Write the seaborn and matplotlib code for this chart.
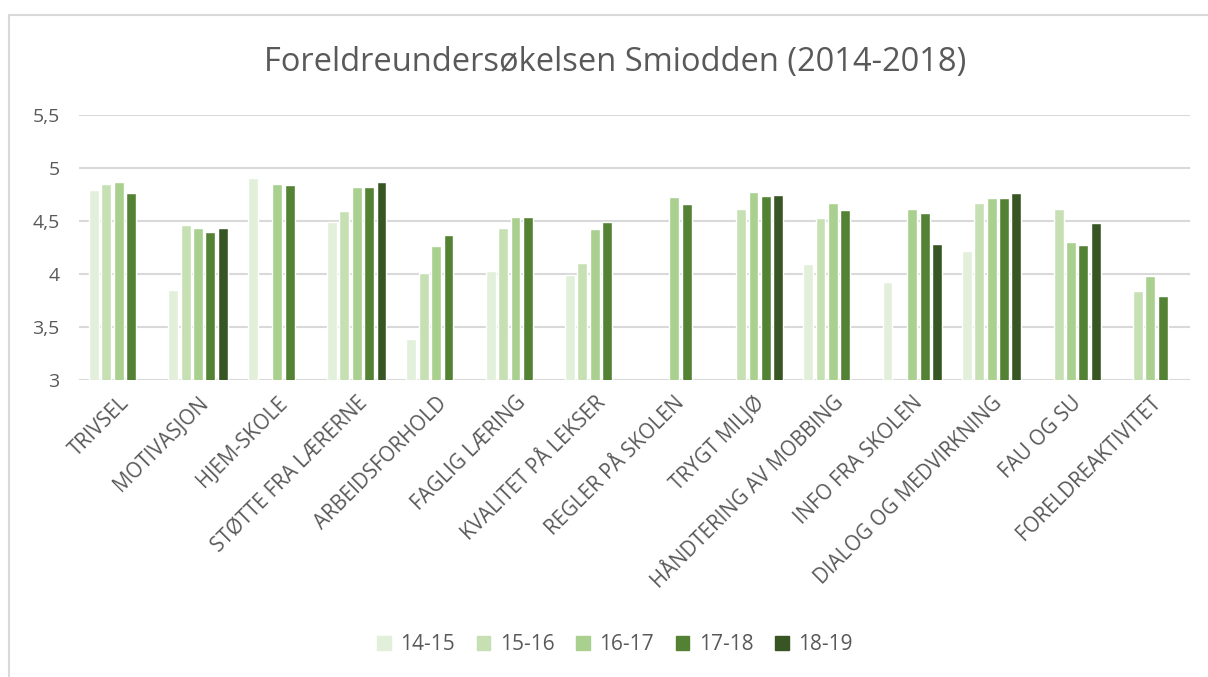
import numpy as np
import pandas as pd
import seaborn as sns
import matplotlib.pyplot as plt
from matplotlib.patches import Rectangle

categories = ['TRIVSEL', 'MOTIVASJON', 'HJEM-SKOLE', 'STØTTE FRA LÆRERNE',
              'ARBEIDSFORHOLD', 'FAGLIG LÆRING', 'KVALITET PÅ LEKSER',
              'REGLER PÅ SKOLEN', 'TRYGT MILJØ', 'HÅNDTERING AV MOBBING',
              'INFO FRA SKOLEN', 'DIALOG OG MEDVIRKNING', 'FAU OG SU',
              'FORELDREAKTIVITET']
seasons = ['14-15', '15-16', '16-17', '17-18', '18-19']
nan = np.nan
v_14_15 = [4.79, 3.85, 4.91, 4.49, 3.39, 4.03, 3.99, nan, nan, 4.09, 3.92, 4.22, nan, nan]
v_15_16 = [4.85, 4.46, nan, 4.59, 4.01, 4.43, 4.10, nan, 4.61, 4.53, nan, 4.67, 4.61, 3.84]
v_16_17 = [4.87, 4.43, 4.85, 4.82, 4.26, 4.54, 4.42, 4.73, 4.77, 4.67, 4.61, 4.72, 4.30, 3.98]
v_17_18 = [4.76, 4.40, 4.84, 4.82, 4.37, 4.54, 4.49, 4.66, 4.74, 4.60, 4.58, 4.72, 4.27, 3.79]
v_18_19 = [nan, 4.43, nan, 4.87, nan, nan, nan, nan, 4.75, nan, 4.28, 4.76, 4.48, nan]
colors = ['#E2EFDA', '#C6E0B4', '#A9D08E', '#548235', '#375623']

rows = []
for s, vals in zip(seasons, [v_14_15, v_15_16, v_16_17, v_17_18, v_18_19]):
    for c, v in zip(categories, vals):
        rows.append({'kategori': c, 'år': s, 'verdi': v})
df = pd.DataFrame(rows)

sns.set_style('white')
plt.rcParams['font.family'] = ['Open Sans', 'DejaVu Sans']
text_col = '#595959'

fig = plt.figure(figsize=(12.08, 6.77), dpi=100)
ax = fig.add_axes([79 / 1208, 297 / 677, 1111 / 1208, 265 / 677])

sns.barplot(data=df, x='kategori', y='verdi', hue='år', order=categories,
            hue_order=seasons, palette=colors, width=0.78, gap=0.2,
            errorbar=None, saturation=1, ax=ax, zorder=3)

ax.set_ylim(3, 5.5)
ax.set_xlim(-0.5, len(categories) - 0.5)
yt = [3, 3.5, 4, 4.5, 5, 5.5]
ax.set_yticks(yt)
ax.set_yticklabels([str(t).replace('.0', '').replace('.', ',') for t in yt],
                   color=text_col, fontsize=14)
ax.yaxis.grid(True, color='#D9D9D9', linewidth=1.5, zorder=0)
ax.set_axisbelow(True)
for sp in ax.spines.values():
    sp.set_visible(False)
ax.tick_params(axis='both', length=0)
ax.tick_params(axis='y', pad=14)
ax.set_xticks(range(len(categories)))
ax.set_xticklabels(categories, rotation=45, ha='right', rotation_mode='anchor',
                   color=text_col, fontsize=14.8)
ax.tick_params(axis='x', pad=9)
ax.set_xlabel('')
ax.set_ylabel('')

ax.get_legend().remove()
handles = [Rectangle((0, 0), 1, 1, color=c) for c in colors]
fig.legend(handles, seasons, loc='center', bbox_to_anchor=(615 / 1208, 1 - 645 / 677),
           ncol=5, frameon=False, fontsize=15, handlelength=0.65, handleheight=0.65,
           columnspacing=1.05, handletextpad=0.45, labelcolor=text_col)

fig.text(615 / 1208, 1 - 62 / 677, 'Foreldreundersøkelsen Smiodden (2014-2018)',
         ha='center', va='center', fontsize=23.5, color=text_col)

fig.patches.append(Rectangle((8.5 / 1208, -0.1), 1.2, 1.1 - 14.5 / 677,
                             transform=fig.transFigure, fill=False,
                             edgecolor='#D9D9D9', linewidth=1.5))

fig.savefig('out.png', dpi=100)
